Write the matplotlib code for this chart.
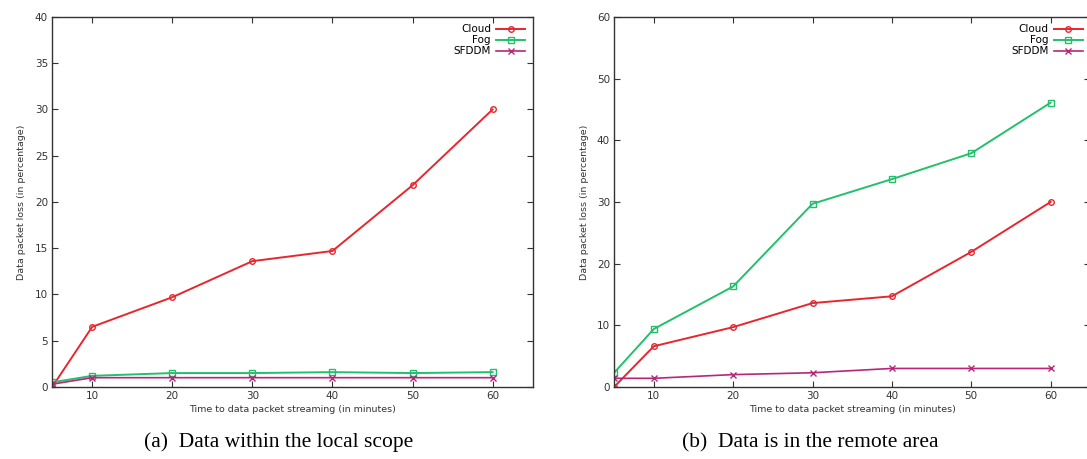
import matplotlib
matplotlib.use("Agg")
import matplotlib.pyplot as plt

# minutes of streaming
minutes = [5, 10, 20, 30, 40, 50, 60]

# (a) local scope
local_cloud = [0.0, 6.5, 9.7, 13.6, 14.7, 21.8, 30.0]
local_fog = [0.5, 1.2, 1.5, 1.5, 1.6, 1.5, 1.6]
local_sfddm = [0.3, 1.0, 1.0, 1.0, 1.0, 1.0, 1.0]

# (b) remote area
remote_cloud = [0.0, 6.6, 9.7, 13.6, 14.7, 21.9, 30.0]
remote_fog = [2.3, 9.4, 16.3, 29.7, 33.7, 37.9, 46.1]
remote_sfddm = [1.4, 1.4, 2.0, 2.3, 3.0, 3.0, 3.0]

x_ticks = [10, 20, 30, 40, 50, 60]
captions = ["(a)  Data within the local scope", "(b)  Data is in the remote area"]

RED = "#e8262e"
GREEN = "#22c06c"
MAGENTA = "#b8257a"


def draw_panel(ax, cloud, fog, sfddm, ymax, ystep):
    ax.plot(minutes, cloud, color=RED, lw=1.4, marker="o", ms=4,
            mfc="none", mew=1.0, label="Cloud")
    ax.plot(minutes, fog, color=GREEN, lw=1.4, marker="s", ms=4,
            mfc="none", mew=1.0, label="Fog")
    ax.plot(minutes, sfddm, color=MAGENTA, lw=1.2, marker="x", ms=4,
            mew=1.0, label="SFDDM")
    ax.set_xlim(5, 65)
    ax.set_ylim(0, ymax)
    ax.set_xticks(x_ticks)
    ax.set_yticks(range(0, ymax + 1, ystep))
    ax.tick_params(direction="in", top=True, right=True, length=4,
                   width=0.8, labelsize=7.5, colors="#333333", pad=3)
    for s in ax.spines.values():
        s.set_linewidth(1.0)
        s.set_color("#333333")
    ax.set_xlabel("Time to data packet streaming (in minutes)",
                  fontsize=6.8, color="#333333", labelpad=3)
    ax.set_ylabel("Data packet loss (in percentage)",
                  fontsize=6.8, color="#333333", labelpad=6)
    ax.legend(loc="upper right", frameon=False, markerfirst=False,
              fontsize=7.5, handlelength=2.8, handletextpad=0.5,
              labelspacing=0.1, borderaxespad=0.3)


fig = plt.figure(figsize=(10.87, 4.59), dpi=100)
ax1 = fig.add_axes([0.048, 0.157, 0.442, 0.806])
ax2 = fig.add_axes([0.565, 0.157, 0.438, 0.806])

draw_panel(ax1, local_cloud, local_fog, local_sfddm, 40, 5)
draw_panel(ax2, remote_cloud, remote_fog, remote_sfddm, 60, 10)

fig.text(0.256, 0.026, captions[0], ha="center", va="baseline",
         fontsize=15.5, family="Liberation Serif")
fig.text(0.745, 0.026, captions[1], ha="center", va="baseline",
         fontsize=15.5, family="Liberation Serif")

fig.savefig("out.png", dpi=100)
